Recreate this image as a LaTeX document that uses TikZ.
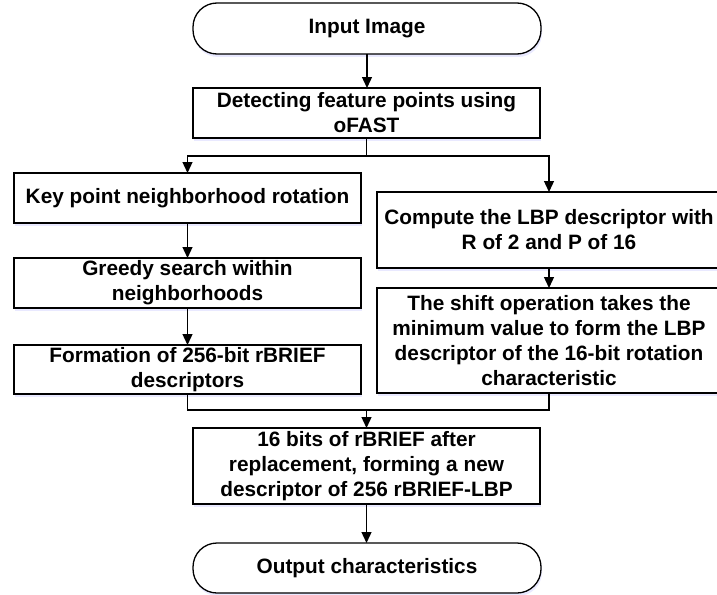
\documentclass[tikz,border=0pt]{standalone}
\usepackage{fontspec}
\setmainfont{Liberation Sans}
\usetikzlibrary{arrows.meta,shadows}
\begin{document}
\begin{tikzpicture}[x=1pt,y=-1pt,
  font=\fontsize{20.8}{25}\selectfont\bfseries,
  box/.style={draw=black,line width=1.3pt,fill=white,align=center,inner sep=0pt,outer sep=0pt,
    drop shadow={shadow xshift=1pt,shadow yshift=-3pt,fill=blue!25!white,opacity=0.35}},
  term/.style={box,rounded corners=24pt},
  conn/.style={line width=1.3pt},
  arr/.style={conn,-{Triangle[length=11pt,width=10pt]}}]
\useasboundingbox (0,0) rectangle (717,594);
\node[term,minimum width=348pt,minimum height=51pt] (inp) at (367,28.5) {Input Image};
\node[box,minimum width=347pt,minimum height=50pt] (det) at (366.5,113) {Detecting feature points using\\oFAST};
\node[box,minimum width=347pt,minimum height=50pt] (l1) at (187.5,198) {Key point neighborhood rotation};
\node[box,minimum width=347pt,minimum height=50pt] (l2) at (187.5,283) {Greedy search within\\neighborhoods};
\node[box,minimum width=347pt,minimum height=49pt] (l3) at (187.5,369.5) {Formation of 256-bit rBRIEF\\descriptors};
\node[box,minimum width=344pt,minimum height=76pt] (r1) at (549,230) {Compute the LBP descriptor with\\R of 2 and P of 16};
\node[box,minimum width=344pt,minimum height=105pt] (r2) at (549,340.5) {The shift operation takes the\\minimum value to form the LBP\\descriptor of the 16-bit rotation\\characteristic};
\node[box,minimum width=347pt,minimum height=76pt] (fin) at (366.5,466) {16 bits of rBRIEF after\\replacement, forming a new\\descriptor of 256 rBRIEF-LBP};
\node[term,minimum width=348pt,minimum height=50pt] (out) at (367,568) {Output characteristics};
\coordinate (br) at (366.5,156);
\coordinate (mg) at (366.5,410);
\draw[arr] (inp.south) -- (inp.south |- det.north);
\draw[conn] (det.south) -- (br);
\draw[arr] (br) -| (l1.north);
\draw[arr] (br) -| (r1.north);
\draw[arr] (l1.south) -- (l2.north);
\draw[arr] (l2.south) -- (l3.north);
\draw[arr] (r1.south) -- (r2.north);
\draw[conn] (l3.south) |- (mg);
\draw[conn] (r2.south) |- (mg);
\draw[arr] (mg) -- (fin.north);
\draw[arr] (fin.south) -- (fin.south |- out.north);
\end{tikzpicture}
\end{document}
